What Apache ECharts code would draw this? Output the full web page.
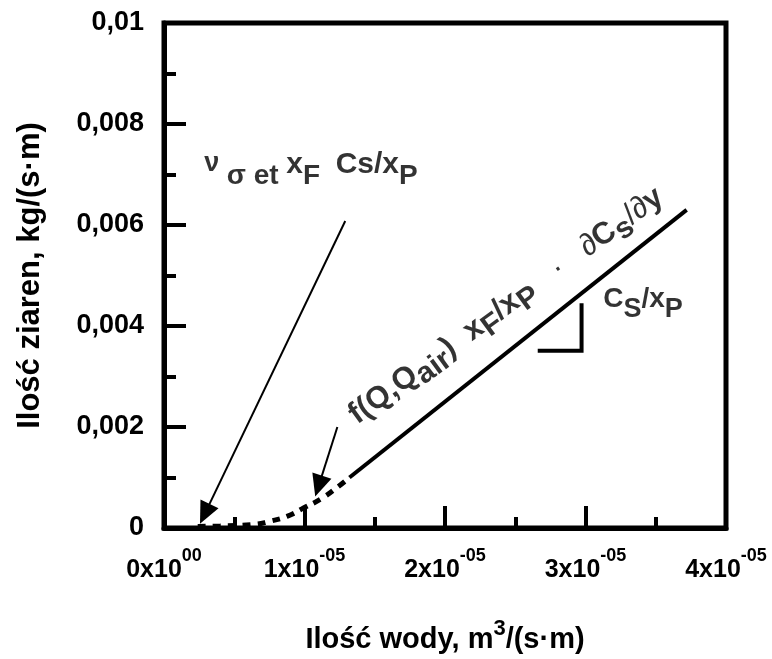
<!DOCTYPE html>
<html>
<head>
<meta charset="utf-8">
<script src="https://cdn.jsdelivr.net/npm/echarts@6/dist/echarts.min.js"></script>
<style>
  html, body { margin: 0; padding: 0; background: #fff; }
  #chart { width: 772px; height: 659px; }
</style>
</head>
<body>
<div id="chart"></div>
<script>
// Tick labels: x as [mantissa, exponent], y with decimal comma
const xTickLabels = [['0', '00'], ['1', '-05'], ['2', '-05'], ['3', '-05'], ['4', '-05']];
const yTickLabels = ['0', '0,002', '0,004', '0,006', '0,008', '0,01'];

// Linear regime (slope Cs/xP), water flow [m3/(s·m)] vs grain flow [kg/(s·m)]
const linearPart = [[1.32e-5, 0.00100], [3.72e-5, 0.00630]];
// Transition regime near the origin
const transitionPart = [
  [0.24e-5, 0.00003], [0.40e-5, 0.00004], [0.64e-5, 0.00007], [0.75e-5, 0.00013],
  [0.875e-5, 0.00023], [0.99e-5, 0.00039], [1.125e-5, 0.00059], [1.24e-5, 0.00082],
  [1.32e-5, 0.00100]
];
// Slope marker under the linear part
const slopeMarker = [[2.66e-5, 0.00351], [2.972e-5, 0.00351], [2.972e-5, 0.00445]];
// Arrows: [from, to]
const arrows = [
  [[1.29e-5, 0.00608], [0.29e-5, 0.00028]],
  [[1.234e-5, 0.00200], [1.10e-5, 0.00083]]
];
// Annotation anchor points (label centres)
const notePoints = {
  feed: [1.046e-5, 0.00709],
  transport: [2.45e-5, 0.00434],
  slope: [3.409e-5, 0.00443]
};

const FONT = '"Liberation Sans", Arial, Helvetica, sans-serif';
const black = '#000';

const chart = echarts.init(document.getElementById('chart'), null, { renderer: 'canvas' });

// Rich styles: n = normal level, d = lowered (subscript level), l = light symbols, h = line height holder
function richSet(nSize, dSize, holder) {
  return {
    n: { fontFamily: FONT, fontWeight: 'bold', fontSize: nSize, color: black, verticalAlign: 'top', lineHeight: nSize },
    d: { fontFamily: FONT, fontWeight: 'bold', fontSize: dSize, color: black, verticalAlign: 'bottom', lineHeight: dSize },
    l: { fontFamily: FONT, fontWeight: 'normal', fontSize: nSize, color: black, verticalAlign: 'top', lineHeight: nSize },
    v: { fontFamily: FONT, fontWeight: 'bold', fontSize: nSize - 3, color: black, verticalAlign: 'top', lineHeight: nSize },
    h: { fontSize: 10, lineHeight: holder, verticalAlign: 'bottom', width: 0 }
  };
}

const option = {
  animation: false,
  backgroundColor: '#fff',
  grid: {
    left: 164, right: 46, top: 23, bottom: 124,
    show: true, borderWidth: 5, borderColor: black, backgroundColor: 'transparent'
  },
  xAxis: {
    type: 'value', min: 0, max: 4e-5, interval: 1e-5,
    name: '{t|Ilość wody, m}{e|3}{t|/(s·m)}',
    nameLocation: 'middle', nameGap: 90,
    nameTextStyle: {
      rich: {
        t: { fontFamily: FONT, fontWeight: 'bold', fontSize: 29, color: black, verticalAlign: 'bottom', lineHeight: 36 },
        e: { fontFamily: FONT, fontWeight: 'bold', fontSize: 22, color: black, verticalAlign: 'top', lineHeight: 22 }
      }
    },
    axisLine: { show: true, lineStyle: { color: black, width: 5 } },
    axisTick: { show: true, inside: true, length: 22, lineStyle: { color: black, width: 4 } },
    minorTick: { show: true, splitNumber: 2, length: 11, lineStyle: { color: black, width: 4 } },
    splitLine: { show: false },
    axisLabel: {
      margin: 19,
      formatter: (v, i) => '{m|' + xTickLabels[i][0] + 'x10}{e|' + xTickLabels[i][1] + '}',
      rich: {
        m: { fontFamily: FONT, fontWeight: 'bold', fontSize: 25, color: black, verticalAlign: 'bottom', lineHeight: 36 },
        e: { fontFamily: FONT, fontWeight: 'bold', fontSize: 18, color: black, verticalAlign: 'top', lineHeight: 14 }
      }
    }
  },
  yAxis: {
    type: 'value', min: 0, max: 0.01, interval: 0.002,
    name: 'Ilość ziaren, kg/(s·m)',
    nameLocation: 'middle', nameGap: 118, nameRotate: 90,
    nameTextStyle: { fontFamily: FONT, fontWeight: 'bold', fontSize: 31, color: black },
    axisLine: { show: true, lineStyle: { color: black, width: 5 } },
    axisTick: { show: true, inside: true, length: 22, lineStyle: { color: black, width: 4 } },
    minorTick: { show: true, splitNumber: 2, length: 12, lineStyle: { color: black, width: 4 } },
    splitLine: { show: false },
    axisLabel: {
      margin: 20,
      fontFamily: FONT, fontWeight: 'bold', fontSize: 27, color: black,
      formatter: (v, i) => yTickLabels[i]
    }
  },
  series: [
    {
      name: 'linear', type: 'line', data: linearPart, showSymbol: false, silent: true,
      lineStyle: { color: black, width: 4 }
    },
    {
      name: 'transition', type: 'line', data: transitionPart, smooth: true, showSymbol: false, silent: true,
      lineStyle: { color: black, width: 5, type: [8, 7], cap: 'butt' }
    },
    {
      name: 'slope', type: 'line', data: slopeMarker, showSymbol: false, silent: true,
      lineStyle: { color: black, width: 4, cap: 'butt', join: 'miter' }
    },
    {
      name: 'arrows', type: 'line', data: [], silent: true,
      markLine: {
        silent: true, animation: false,
        symbol: ['none', 'triangle'], symbolSize: [20, 22],
        lineStyle: { color: black, width: 2, type: 'solid' },
        label: { show: false },
        emphasis: { disabled: true },
        data: arrows.map(a => [{ coord: a[0] }, { coord: a[1] }])
      }
    },
    {
      name: 'notes', type: 'scatter', symbolSize: 0, silent: true,
      data: [
        {
          value: notePoints.feed,
          label: {
            show: true, position: 'inside',
            formatter: '{h| }{v|ν }{d|σ et }{n|x}{d|F  }{n|Cs/x}{d|P}',
            rich: richSet(30, 28, 40)
          }
        },
        {
          value: notePoints.transport,
          label: {
            show: true, position: 'inside', rotate: 36,
            formatter: '{h| }{n|f(Q,Q}{d|air}{n|)  x}{d|F}{n|/x}{d|P}{l|   ·   ∂}{n|C}{d|s}{l|/∂}{n|y}',
            rich: richSet(31, 30, 38)
          }
        },
        {
          value: notePoints.slope,
          label: {
            show: true, position: 'inside',
            formatter: '{h| }{n|C}{d|S}{n|/x}{d|P}',
            rich: richSet(28, 27, 38)
          }
        }
      ]
    }
  ]
};

chart.setOption(option);
</script>
</body>
</html>
